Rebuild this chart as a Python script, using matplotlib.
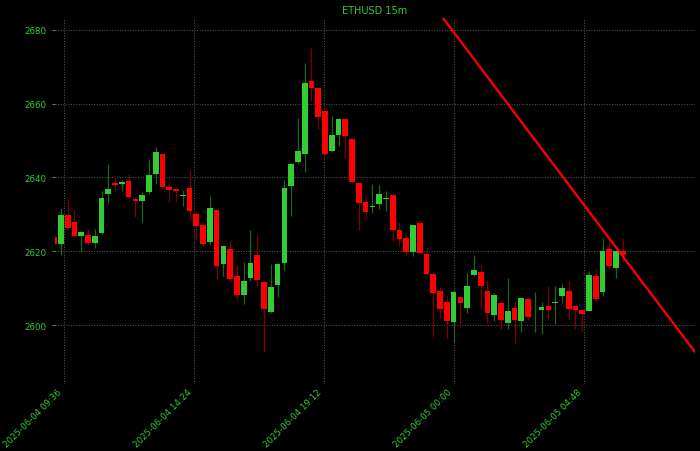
import numpy as np
import pandas as pd
from matplotlib import pyplot as plt
import matplotlib.dates as mdates
from matplotlib.ticker import MultipleLocator


# 15 minute candles
times = pd.date_range('2025-06-04 09:15', periods=85, freq='15min')

opens = [2623.9, 2621.9, 2629.8, 2627.9, 2624.2, 2624.5, 2622.3, 2625.0, 2635.4, 2638.5,
         2638.3, 2639.1, 2634.2, 2633.5, 2636.0, 2640.9, 2646.3, 2637.3, 2636.9, 2634.9,
         2637.2, 2630.1, 2627.1, 2622.6, 2631.2, 2616.5, 2620.6, 2613.3, 2608.1, 2612.8,
         2619.1, 2611.7, 2603.6, 2610.9, 2616.7, 2637.8, 2644.1, 2646.4, 2666.2, 2664.2,
         2658.0, 2647.3, 2651.6, 2655.9, 2650.3, 2638.4, 2633.3, 2631.9, 2632.8, 2634.2,
         2635.3, 2625.7, 2623.7, 2619.9, 2627.6, 2619.3, 2613.8, 2609.1, 2606.3, 2600.9,
         2607.5, 2604.7, 2613.5, 2614.3, 2609.2, 2602.7, 2606.1, 2600.6, 2604.5, 2601.2,
         2607.0, 2603.0, 2604.2, 2605.1, 2606.1, 2607.9, 2609.1, 2605.1, 2604.2, 2603.9,
         2613.4, 2608.9, 2620.6, 2615.6, 2620.2]
highs = [2624.5, 2631.6, 2634.4, 2631.2, 2625.5, 2626.0, 2626.0, 2636.2, 2643.6, 2640.5,
         2639.2, 2641.0, 2634.6, 2636.0, 2645.0, 2648.2, 2646.6, 2638.9, 2637.2, 2636.6,
         2642.1, 2630.6, 2628.0, 2635.1, 2631.4, 2621.8, 2623.1, 2616.3, 2617.2, 2625.8,
         2624.4, 2611.9, 2616.5, 2616.8, 2639.3, 2644.0, 2656.1, 2671.1, 2675.1, 2664.5,
         2658.2, 2656.6, 2656.1, 2656.1, 2650.5, 2638.6, 2635.3, 2638.2, 2638.0, 2636.3,
         2635.5, 2628.0, 2625.0, 2627.2, 2628.5, 2621.1, 2614.0, 2610.4, 2608.0, 2609.1,
         2607.7, 2614.1, 2619.1, 2616.3, 2612.2, 2608.6, 2606.6, 2612.7, 2606.6, 2607.5,
         2607.5, 2609.0, 2606.2, 2610.7, 2610.7, 2611.1, 2612.0, 2605.3, 2604.4, 2614.7,
         2615.2, 2623.6, 2622.9, 2620.3, 2623.6]
lows = [2621.5, 2619.0, 2625.8, 2623.9, 2619.9, 2621.8, 2621.0, 2624.8, 2633.1, 2636.2,
        2636.2, 2634.2, 2629.2, 2628.0, 2635.5, 2638.2, 2637.0, 2633.3, 2633.3, 2632.4,
        2628.7, 2623.3, 2621.5, 2621.7, 2612.5, 2613.2, 2611.6, 2606.9, 2605.7, 2612.0,
        2610.7, 2592.6, 2603.4, 2607.5, 2615.0, 2629.6, 2643.9, 2641.4, 2660.8, 2653.2,
        2646.0, 2647.0, 2648.5, 2645.2, 2638.5, 2625.8, 2629.0, 2630.4, 2631.5, 2630.8,
        2622.6, 2621.5, 2619.0, 2618.8, 2619.2, 2613.6, 2596.9, 2601.8, 2596.6, 2595.4,
        2599.4, 2603.2, 2613.3, 2604.5, 2600.5, 2601.2, 2598.9, 2598.9, 2595.0, 2598.0,
        2601.5, 2598.0, 2597.6, 2601.6, 2600.3, 2606.0, 2601.6, 2598.9, 2598.5, 2603.7,
        2606.5, 2608.0, 2615.2, 2612.7, 2617.0]
closes = [2622.0, 2629.8, 2626.2, 2624.2, 2625.1, 2622.2, 2624.1, 2634.5, 2637.0, 2638.0,
          2638.7, 2634.6, 2633.7, 2635.3, 2640.8, 2646.8, 2637.5, 2636.7, 2636.3, 2635.3,
          2630.8, 2626.9, 2621.9, 2631.7, 2616.0, 2621.5, 2612.5, 2608.1, 2612.0, 2616.7,
          2612.1, 2604.3, 2610.4, 2616.5, 2637.2, 2643.7, 2647.2, 2665.5, 2664.3, 2656.3,
          2646.3, 2651.5, 2655.9, 2651.3, 2638.7, 2633.0, 2630.6, 2632.4, 2635.5, 2634.5,
          2625.8, 2623.3, 2619.7, 2627.0, 2619.4, 2613.8, 2608.8, 2604.3, 2601.1, 2608.9,
          2606.0, 2610.7, 2615.0, 2610.5, 2603.4, 2608.2, 2601.4, 2603.7, 2601.5, 2607.2,
          2602.1, 2603.1, 2604.9, 2604.1, 2606.3, 2610.0, 2604.3, 2604.1, 2602.9, 2613.6,
          2607.0, 2620.2, 2616.1, 2620.0, 2619.0]

# trend line through two points
trend_times = ['2025-06-05 00:00', '2025-06-05 06:15']
trend_prices = [2679.4, 2618.6]

x = mdates.date2num(times)
o = np.array(opens)
h = np.array(highs)
l = np.array(lows)
c = np.array(closes)

up = c >= o
body_col = np.where(up, 'limegreen', 'red')
wick_col = np.where(up, '#1a661a', '#800000')

fig = plt.figure(figsize=(7, 4.52), dpi=100, facecolor='black')
ax = fig.add_axes([0.078, 0.148, 0.915, 0.809])
ax.set_facecolor('black')

width = 0.84 * 15 / 1440
ax.vlines(x, l, h, colors=wick_col, linewidth=0.9, zorder=2)
ax.bar(x, np.abs(c - o), width=width, bottom=np.minimum(o, c), color=body_col, zorder=3)

tx = mdates.date2num(pd.to_datetime(trend_times))
ax.axline((tx[0], trend_prices[0]), (tx[1], trend_prices[1]), color='red', linewidth=1.6, zorder=4)

ax.set_xlim(mdates.date2num(pd.Timestamp('2025-06-04 09:16')),
            mdates.date2num(pd.Timestamp('2025-06-05 08:55')))
ax.set_ylim(2584.0, 2683.1)

ax.xaxis.set_major_locator(MultipleLocator(0.2))
ax.xaxis.set_major_formatter(mdates.DateFormatter('%Y-%m-%d %H:%M'))
ax.yaxis.set_major_locator(MultipleLocator(20))

ax.grid(True, color='#5a5a5a', linestyle=':', linewidth=0.7)
for s in ax.spines.values():
    s.set_visible(False)
ax.tick_params(colors='limegreen', labelsize=6.2, length=2.5, width=0.6)
ax.tick_params(axis='x', length=0, pad=2)
plt.setp(ax.get_xticklabels(), rotation=45, ha='right')

ax.set_title('ETHUSD 15m', color='limegreen', fontsize=7, pad=4)

plt.savefig('out.png', dpi=100, facecolor='black')
plt.close()
